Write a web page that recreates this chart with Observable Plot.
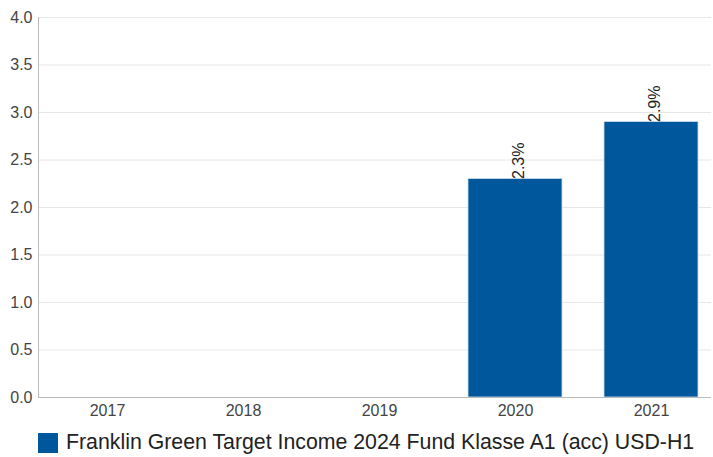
<!DOCTYPE html>
<html><head><meta charset="utf-8">
<script src="https://cdn.jsdelivr.net/npm/d3@7"></script>
<script src="https://cdn.jsdelivr.net/npm/@observablehq/plot@0.6"></script>
<style>
body{margin:0;background:#fff;font-family:"Liberation Sans",Arial,sans-serif;}
#legend{display:flex;align-items:center;height:29px;padding-left:38px;font-size:21.3px;color:#222;}
#legend .sw{width:20px;height:20px;background:#00579b;margin-right:8px;}
</style></head><body>
<div id="chart"></div>
<div id="legend"><span class="sw"></span><span id="lt"></span></div>
<script>
const years = ["2017","2018","2019","2020","2021"];
const values = [null, null, null, 2.3, 2.9];
const yTicks = [0,0.5,1,1.5,2,2.5,3,3.5,4];
const seriesName = "Franklin Green Target Income 2024 Fund Klasse A1 (acc) USD-H1";
const color = "#00579b";

const data = years.map((y,i)=>({year:y, value:values[i]})).filter(d=>d.value!=null);

const chart = Plot.plot({
  width:713, height:428,
  marginLeft:38, marginRight:2, marginTop:17, marginBottom:31,
  style:{fontFamily:"Liberation Sans, Arial, sans-serif", fontSize:"16px", color:"#444"},
  x:{domain:years, range:[38,720], paddingInner:0.306, paddingOuter:0.153, label:null, tickSize:0, tickPadding:7},
  y:{domain:[0,4], ticks:yTicks, tickFormat:d3.format(".1f"), label:null, tickSize:0, tickPadding:6},
  marks:[
    Plot.ruleY(yTicks.slice(1), {stroke:"#e6e6e6"}),
    Plot.barY(data, {x:"year", y:"value", fill:color, stroke:"#cfdcea", strokeWidth:0.8}),
    Plot.ruleY([0], {stroke:"#bbb"}),
    Plot.text(data, {x:"year", y:"value", text:d=>d.value.toFixed(1)+"%", rotate:-90, textAnchor:"start", dx:3, fontSize:16, fill:"#222", lineAnchor:"middle"})
  ]
});
const svg = d3.select(chart);
svg.append("line").attr("x1",38.5).attr("x2",38.5).attr("y1",17).attr("y2",397).attr("stroke","#bbb");
document.getElementById("chart").appendChild(chart);
document.getElementById("lt").textContent = seriesName;
</script></body></html>
